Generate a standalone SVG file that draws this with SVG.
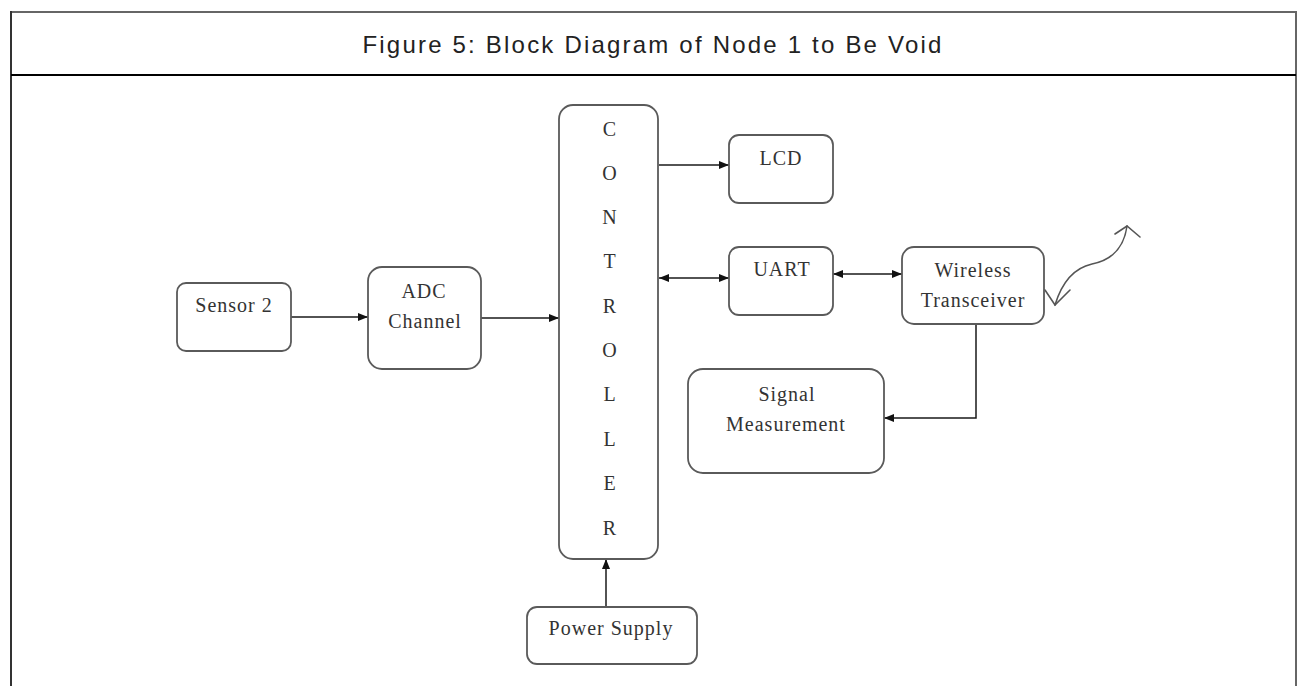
<svg xmlns="http://www.w3.org/2000/svg" width="1298" height="686" viewBox="0 0 1298 686">
<style>
.box{fill:#fff;stroke:#5a5a5a;stroke-width:1.8}
.lbl{font-family:"Liberation Serif","Times New Roman",serif;font-size:20px;letter-spacing:1px;fill:#333;text-anchor:middle}
.ln{stroke:#1a1a1a;stroke-width:1.5;fill:none}
.ant{stroke:#555;stroke-width:1.6;fill:none;stroke-linecap:round}
</style>
<defs>
<marker id="ah" viewBox="0 0 10 10" refX="10" refY="5" markerWidth="10" markerHeight="10" markerUnits="userSpaceOnUse" orient="auto-start-reverse">
<path d="M0,1 L10,5 L0,9 Z" fill="#111"/>
</marker>
</defs>
<rect width="1298" height="686" fill="#fff"/>
<g id="frame">
<line x1="11" y1="12" x2="1296" y2="12" stroke="#333" stroke-width="1.5"/>
<line x1="11" y1="11" x2="11" y2="686" stroke="#333" stroke-width="2"/>
<line x1="1296" y1="11" x2="1296" y2="686" stroke="#666" stroke-width="2"/>
<line x1="11" y1="75" x2="1296" y2="75" stroke="#000" stroke-width="2.2"/>
<text x="653" y="53" font-family="'Liberation Sans',Arial,sans-serif" font-size="24" letter-spacing="2.2" fill="#222" text-anchor="middle">Figure 5: Block Diagram of Node 1 to Be Void</text>
</g>
<g id="connectors">
<line class="ln" x1="291" y1="317" x2="368" y2="317" marker-end="url(#ah)"/>
<line class="ln" x1="481" y1="318" x2="559" y2="318" marker-end="url(#ah)"/>
<line class="ln" x1="659" y1="165" x2="729" y2="165" marker-end="url(#ah)"/>
<line class="ln" x1="659" y1="278" x2="729" y2="278" marker-start="url(#ah)" marker-end="url(#ah)"/>
<line class="ln" x1="833" y1="274" x2="902" y2="274" marker-start="url(#ah)" marker-end="url(#ah)"/>
<polyline class="ln" points="976,324 976,418 884,418" marker-end="url(#ah)"/>
<line class="ln" x1="606" y1="607" x2="606" y2="559" marker-end="url(#ah)"/>
</g>
<g id="sensor2">
<rect class="box" x="177" y="283" width="114" height="68" rx="9"/>
<text class="lbl" x="234" y="312">Sensor 2</text>
</g>
<g id="adc">
<rect class="box" x="368" y="267" width="113" height="102" rx="14"/>
<text class="lbl" x="424" y="298">ADC</text>
<text class="lbl" x="425" y="328">Channel</text>
</g>
<g id="controller">
<rect class="box" x="559" y="105" width="99" height="454" rx="14"/>
<text class="lbl" x="610" y="136">C</text>
<text class="lbl" x="610" y="180">O</text>
<text class="lbl" x="610" y="224">N</text>
<text class="lbl" x="610" y="268">T</text>
<text class="lbl" x="610" y="313">R</text>
<text class="lbl" x="610" y="357">O</text>
<text class="lbl" x="610" y="401">L</text>
<text class="lbl" x="610" y="446">L</text>
<text class="lbl" x="610" y="490">E</text>
<text class="lbl" x="610" y="535">R</text>
</g>
<g id="lcd">
<rect class="box" x="729" y="135" width="104" height="68" rx="10"/>
<text class="lbl" x="781" y="165">LCD</text>
</g>
<g id="uart">
<rect class="box" x="729" y="247" width="104" height="68" rx="10"/>
<text class="lbl" x="782" y="276">UART</text>
</g>
<g id="wireless">
<rect class="box" x="902" y="247" width="142" height="77" rx="12"/>
<text class="lbl" x="973" y="277">Wireless</text>
<text class="lbl" x="973" y="307">Transceiver</text>
<path class="ant" d="M1055,305 C1062,282 1074,268 1092,264 C1112,260 1124,248 1127,226"/>
<path class="ant" d="M1045,290 L1055,305 L1070,290"/>
<path class="ant" d="M1115,234 L1127,226 L1140,237"/>
</g>
<g id="signal">
<rect class="box" x="688" y="369" width="196" height="104" rx="15"/>
<text class="lbl" x="787" y="401">Signal</text>
<text class="lbl" x="786" y="431">Measurement</text>
</g>
<g id="power">
<rect class="box" x="527" y="607" width="170" height="57" rx="10"/>
<text class="lbl" x="611" y="635">Power Supply</text>
</g>
</svg>
